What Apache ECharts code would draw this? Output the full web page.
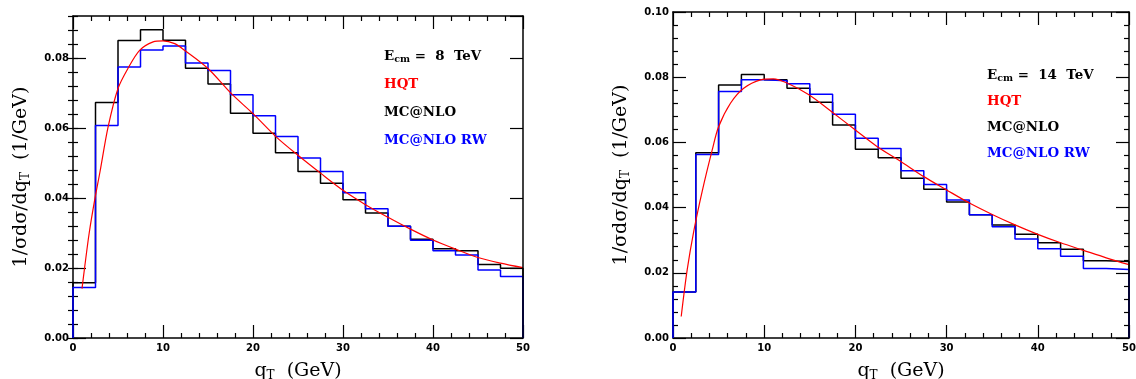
<!DOCTYPE html>
<html>
<head>
<meta charset="utf-8">
<script src="https://cdn.jsdelivr.net/npm/echarts@6/dist/echarts.min.js"></script>
<style>html,body{margin:0;padding:0;background:#fff}#c{width:1136px;height:379px}</style>
</head>
<body>
<div id="c"></div>
<script>
// ---- data ----
const binEdges = [0,2.5,5,7.5,10,12.5,15,17.5,20,22.5,25,27.5,30,32.5,35,37.5,40,42.5,45,47.5,50];
const mcnlo8 = [0.0158,0.0673,0.0850,0.0881,0.0851,0.0771,0.0726,0.0642,0.0585,0.0529,0.0476,0.0442,0.0395,0.0357,0.0319,0.0282,0.0255,0.0249,0.0210,0.0199];
const mcnloRW8 = [0.0144,0.0607,0.0774,0.0823,0.0834,0.0786,0.0764,0.0695,0.0635,0.0576,0.0514,0.0476,0.0415,0.0369,0.0319,0.0279,0.0249,0.0237,0.0194,0.0176];
const hqt8X = [1.0,1.3,1.8,2.4,3.0,3.9,5.0,6.1,7.4,8.9,10.0,11.3,12.4,15.0,17.6,20.0,22.6,25.0,27.5,30.0,32.5,35.0,37.5,40.0,42.5,45.0,47.5,50.0];
const hqt8Y = [0.0141,0.0203,0.0300,0.0393,0.0475,0.0603,0.0713,0.0770,0.0822,0.0846,0.0849,0.0841,0.0822,0.0770,0.0698,0.0641,0.0574,0.0522,0.0471,0.0422,0.0381,0.0345,0.0311,0.0280,0.0254,0.0230,0.0214,0.0201];

const mcnlo14 = [0.0141,0.0568,0.0776,0.0808,0.0792,0.0766,0.0723,0.0653,0.0579,0.0553,0.0490,0.0456,0.0417,0.0378,0.0347,0.0318,0.0292,0.0272,0.0237,0.0235];
const mcnloRW14 = [0.0141,0.0563,0.0756,0.0792,0.0789,0.0780,0.0748,0.0686,0.0613,0.0581,0.0513,0.0471,0.0423,0.0378,0.0341,0.0304,0.0274,0.0251,0.0213,0.0210];
const hqt14X = [0.9,1.55,2.3,3.2,4.3,5.0,6.3,7.75,9.6,11.0,12.5,14.9,17.4,20.0,22.4,24.9,27.5,30.0,32.5,35.0,37.5,40.0,42.5,45.0,47.5,50.0];
const hqt14Y = [0.0066,0.0208,0.0331,0.0450,0.0577,0.0648,0.0720,0.0766,0.0792,0.0795,0.0782,0.0746,0.0694,0.0638,0.0587,0.0543,0.0495,0.0454,0.0414,0.0379,0.0347,0.0318,0.0292,0.0269,0.0246,0.0225];

const xTicks = {min:0, max:50, interval:10};
const yLeftMax = 0.092, yRightMax = 0.10, yMajor = 0.02, yMinor = 0.004;

// ---- helpers ----
function stairs(edges, vals){
  const pts = [[edges[0],0]];
  for (let i=0;i<vals.length;i++){ pts.push([edges[i],vals[i]]); pts.push([edges[i+1],vals[i]]); }
  pts.push([edges[edges.length-1],0]);
  return pts;
}
function zip(xs, ys){ return xs.map((x,i)=>[x,ys[i]]); }

const BLACK='#000', frameW=1.5;
const lblFont = {color:'#000', fontFamily:'DejaVu Sans', fontWeight:'bold', fontSize:10};
const titleRich = {
  n:{fontFamily:'DejaVu Serif', fontSize:19, color:'#000'},
  s:{fontFamily:'DejaVu Serif', fontSize:12, color:'#000', padding:[9,0,0,0]}
};

function xAx(grid, pos, labels){
  return {
    type:'value', gridIndex:grid, position:pos, min:xTicks.min, max:xTicks.max, interval:xTicks.interval,
    axisLine:{show:true, onZero:false, lineStyle:{color:BLACK, width:frameW}},
    axisTick:{show:true, inside:true, length:13, lineStyle:{color:BLACK, width:1.2}},
    minorTick:{show:true, splitNumber:5, length:5, lineStyle:{color:BLACK, width:1.2}},
    axisLabel:{show:labels, margin:5, ...lblFont},
    splitLine:{show:false},
    name: labels ? '{n|q}{s|T}{n|  (GeV)}' : '',
    nameLocation:'middle', nameGap:23,
    nameTextStyle:{rich:titleRich}
  };
}
function yMain(grid, pos, max, labels, minor, z){
  return {
    type:'value', gridIndex:grid, position:pos, min:0, max:max, interval:yMajor, z:z||0,
    axisLine:{show:true, onZero:false, lineStyle:{color:BLACK, width:frameW}},
    axisTick:{show:true, inside:true, length:13, lineStyle:{color:BLACK, width:1.2}},
    minorTick:{show:!!minor, splitNumber:5, length:5, lineStyle:{color:BLACK, width:1.2}},
    axisLabel:{show:labels, margin:4, showMaxLabel: max===yRightMax, ...lblFont,
      formatter:v=> (Math.abs(v/yMajor-Math.round(v/yMajor))<1e-6) ? v.toFixed(2) : ''},
    splitLine:{show:false},
    name: labels ? '{n|1/σdσ/dq}{s|T}{n|  (1/GeV)}' : '',
    nameLocation:'middle', nameRotate:90, nameGap:41,
    nameTextStyle:{rich:titleRich}
  };
}
function yMinorAx(grid, pos, max){
  return {
    type:'value', gridIndex:grid, position:pos, min:0, max:max, interval:yMinor,
    axisLine:{show:false}, axisLabel:{show:false}, splitLine:{show:false},
    axisTick:{show:true, inside:true, length:5, lineStyle:{color:BLACK, width:1.2}}
  };
}

const option = {
  animation:false,
  backgroundColor:'#fff',
  grid:[
    {left:73, top:16, width:450, height:322, outerBoundsMode:'none', containLabel:false},
    {left:673, top:12, width:456, height:326, outerBoundsMode:'none', containLabel:false}
  ],
  xAxis:[ xAx(0,'bottom',true), xAx(0,'top',false), xAx(1,'bottom',true), xAx(1,'top',false) ],
  yAxis:[
    yMain(0,'left',yLeftMax,true,false), yMinorAx(0,'left',yLeftMax),
    yMain(0,'right',yLeftMax,false,false,3), yMinorAx(0,'right',yLeftMax),
    yMain(1,'left',yRightMax,true,true), yMain(1,'right',yRightMax,false,true,3)
  ],
  series:[
    {type:'line', xAxisIndex:0, yAxisIndex:0, data:stairs(binEdges,mcnlo8), symbol:'none', lineStyle:{color:'#000', width:1.5}, z:2},
    {type:'line', xAxisIndex:0, yAxisIndex:0, data:stairs(binEdges,mcnloRW8), symbol:'none', lineStyle:{color:'#0000ff', width:1.5}, z:2},
    {type:'line', xAxisIndex:0, yAxisIndex:0, data:zip(hqt8X,hqt8Y), symbol:'none', smooth:0.3, lineStyle:{color:'#ff0000', width:1.2}, z:2},
    {type:'line', xAxisIndex:2, yAxisIndex:4, data:stairs(binEdges,mcnlo14), symbol:'none', lineStyle:{color:'#000', width:1.5}, z:2},
    {type:'line', xAxisIndex:2, yAxisIndex:4, data:stairs(binEdges,mcnloRW14), symbol:'none', lineStyle:{color:'#0000ff', width:1.5}, z:2},
    {type:'line', xAxisIndex:2, yAxisIndex:4, data:zip(hqt14X,hqt14Y), symbol:'none', smooth:0.3, lineStyle:{color:'#ff0000', width:1.2}, z:2}
  ],
  graphic:[]
};

// legend-like labels
const LEG_SIZE = 13.4;
const legRich = {
  b:{fontFamily:'DejaVu Serif', fontWeight:'bold', fontSize:LEG_SIZE, color:'#000'},
  sb:{fontFamily:'DejaVu Serif', fontWeight:'bold', fontSize:9.5, color:'#000', padding:[6,0,0,0]}
};
function legend(x, ys, energy){
  const items = [
    {t:'{b|E}{sb|cm}{b| =  '+energy+'  TeV}', c:'#000'},
    {t:'HQT', c:'#ff0000'},
    {t:'MC@NLO', c:'#000'},
    {t:'MC@NLO RW', c:'#0000ff'}
  ];
  return items.map((it,i)=>({
    type:'text', left:x, top:ys[i]-9, z:10,
    style:{text:it.t, fill:it.c, font:'bold '+LEG_SIZE+'px "DejaVu Serif"', rich: i===0?legRich:undefined}
  }));
}
option.graphic = [...legend(384,[59,87,115,143],'8'), ...legend(987,[78,104,130,156],'14')];

const chart = echarts.init(document.getElementById('c'), null, {renderer:'canvas'});
chart.setOption(option);
</script>
</body>
</html>
